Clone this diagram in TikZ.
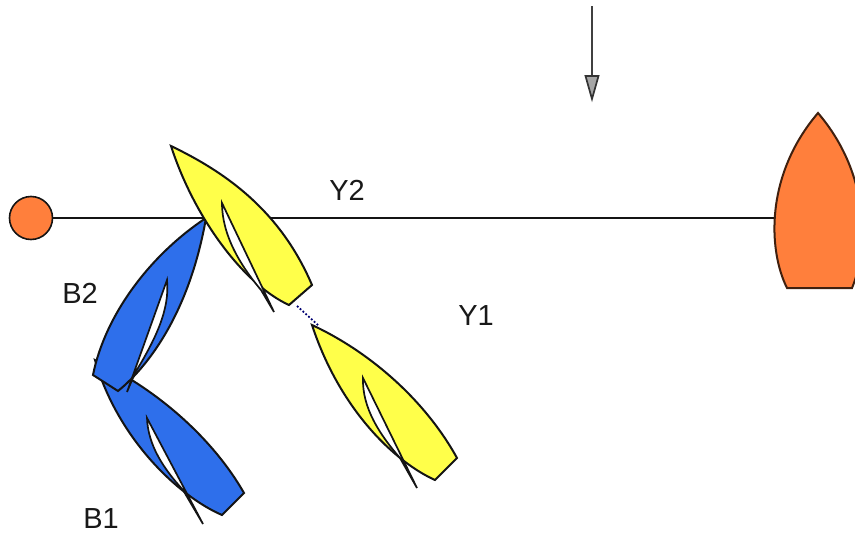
\documentclass[tikz,border=0pt]{standalone}
\usepackage{fontspec}
\setmainfont{Liberation Sans}
\definecolor{boatyellow}{HTML}{FFFF4A}
\definecolor{boatblue}{HTML}{2E6FEB}
\definecolor{markorange}{HTML}{FF7F3C}
\definecolor{outlinedark}{HTML}{141414}
\tikzset{
  hullline/.style={draw=outlinedark,line width=2pt,line join=miter},
  sailline/.style={draw=outlinedark,line width=1.7pt,fill=white,line join=miter},
  lbl/.style={font=\fontsize{29}{32}\selectfont,inner sep=0pt,text=black!90}
}
\begin{document}
\begin{tikzpicture}[x=1pt,y=-1pt]
\useasboundingbox (0,0) rectangle (855,533);
\clip (0,0) rectangle (855,533);
\fill[white] (0,0) rectangle (855,533);
% start line
\draw[line width=1.7pt,outlinedark] (53,218) -- (776,218);
\draw[hullline,line width=1.6pt,fill=markorange] (31,218) circle (21.5);
% committee boat
\draw[hullline,draw=black!75!markorange,fill=markorange]
  (787,288) .. controls (768,250) and (765,175) .. (818,113)
  .. controls (871,175) and (868,250) .. (852,288) -- cycle;
% wind arrow
\draw[line width=1.7pt,black!75] (592,6) -- (592,76);
\draw[line width=1.7pt,draw=black!80,fill=black!35] (585.5,76) -- (598.5,76) -- (592,99) -- cycle;
% dotted overlap line
\draw[line width=1.8pt,dotted,draw=blue!45!black] (297,306) -- (319,326);
% B1
\draw[hullline,fill=boatblue]
  (95,360) .. controls (155,388) and (212,437) .. (244,493)
  -- (222,515)
  .. controls (180,497) and (118,440) .. (95,360) -- cycle;
\draw[sailline]
  (147,418) .. controls (148,445) and (163,468) .. (183,490) -- (203,524) -- cycle;
% B2
\draw[hullline,fill=boatblue]
  (206,218) .. controls (150,255) and (105,315) .. (93,375)
  -- (118,391)
  .. controls (150,365) and (190,310) .. (206,218) -- cycle;
\draw[sailline]
  (167,280) .. controls (170,310) and (155,340) .. (135,373) -- (127,392) -- cycle;
% Y2
\draw[hullline,fill=boatyellow]
  (171,146) .. controls (225,172) and (280,210) .. (312,285)
  -- (289,305)
  .. controls (245,285) and (195,220) .. (171,146) -- cycle;
\draw[sailline]
  (222,203) .. controls (222,235) and (240,265) .. (261,290) -- (274,312) -- cycle;
% Y1
\draw[hullline,fill=boatyellow]
  (312,325) .. controls (370,352) and (425,400) .. (457,458)
  -- (435,480)
  .. controls (395,462) and (340,410) .. (312,325) -- cycle;
\draw[sailline]
  (363,378) .. controls (362,408) and (380,435) .. (400,458) -- (417,488) -- cycle;
% labels
\node[lbl] (y2) at (347,190) {Y2};
\node[lbl] (y1) at (476,316) {Y1};
\node[lbl] (b2) at (80,293) {B2};
\node[lbl] (b1) at (101,519) {B1};
\end{tikzpicture}
\end{document}
